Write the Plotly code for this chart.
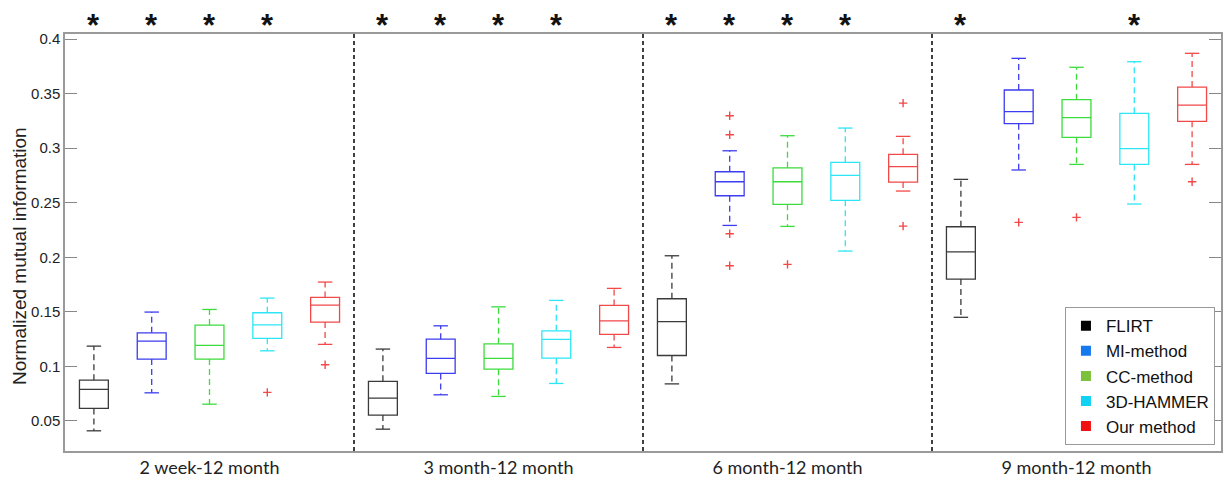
import plotly.graph_objects as go

groups = ["2 week-12 month", "3 month-12 month", "6 month-12 month", "9 month-12 month"]
methods = ["FLIRT", "MI-method", "CC-method", "3D-HAMMER", "Our method"]

# box statistics per method, one value per group
flirt_low = [0.041, 0.0425, 0.084, 0.145]
flirt_q1 = [0.0615, 0.0554, 0.110, 0.180]
flirt_med = [0.079, 0.0709, 0.141, 0.205]
flirt_q3 = [0.0874, 0.0863, 0.162, 0.228]
flirt_up = [0.1186, 0.1159, 0.2014, 0.2714]

mi_low = [0.0758, 0.074, 0.2292, 0.280]
mi_q1 = [0.1067, 0.0936, 0.2564, 0.3224]
mi_med = [0.1232, 0.1073, 0.2692, 0.3334]
mi_q3 = [0.1308, 0.125, 0.2784, 0.3533]
mi_up = [0.1498, 0.1372, 0.2976, 0.3823]

cc_low = [0.0654, 0.0725, 0.2283, 0.2851]
cc_q1 = [0.1067, 0.0975, 0.2485, 0.3099]
cc_med = [0.1192, 0.1073, 0.2692, 0.3279]
cc_q3 = [0.1379, 0.1207, 0.282, 0.3444]
cc_up = [0.1522, 0.1546, 0.3114, 0.3741]

hammer_low = [0.1143, 0.0844, 0.2057, 0.2488]
hammer_q1 = [0.1257, 0.1076, 0.2522, 0.2851]
hammer_med = [0.1381, 0.1247, 0.2751, 0.2995]
hammer_q3 = [0.1492, 0.1326, 0.287, 0.3319]
hammer_up = [0.1626, 0.1605, 0.3184, 0.3792]

ours_low = [0.1202, 0.1174, 0.2607, 0.2851]
ours_q1 = [0.1406, 0.1293, 0.2689, 0.3246]
ours_med = [0.1562, 0.1418, 0.283, 0.3395]
ours_q3 = [0.1632, 0.1559, 0.2943, 0.356]
ours_up = [0.1773, 0.1715, 0.3108, 0.3869]

# outliers per method: list per group
flirt_out = [[], [], [], []]
mi_out = [[], [], [0.3297, 0.3123, 0.2215, 0.1922], [0.232]]
cc_out = [[], [], [0.1935], [0.2366]]
hammer_out = [[0.0762], [], [], []]
ours_out = [[0.1015], [], [0.3413, 0.2286], [0.2692]]

# significance stars (1 = star above the method's box)
stars = [
    [1, 1, 1, 1, 0],
    [1, 1, 1, 1, 0],
    [1, 1, 1, 1, 0],
    [1, 0, 0, 1, 0],
]

stats = {
    "FLIRT": (flirt_low, flirt_q1, flirt_med, flirt_q3, flirt_up, flirt_out),
    "MI-method": (mi_low, mi_q1, mi_med, mi_q3, mi_up, mi_out),
    "CC-method": (cc_low, cc_q1, cc_med, cc_q3, cc_up, cc_out),
    "3D-HAMMER": (hammer_low, hammer_q1, hammer_med, hammer_q3, hammer_up, hammer_out),
    "Our method": (ours_low, ours_q1, ours_med, ours_q3, ours_up, ours_out),
}

box_colors = ["#3a3a3a", "#3c3cf0", "#3cdc3c", "#2ce6f6", "#f24848"]
legend_colors = ["#000000", "#1478ee", "#7cc13c", "#10d2f2", "#f01010"]
outlier_color = "#f24848"

spacing = 0.2
box_w = 0.1
cap_w = 0.05

fig = go.Figure()

for j, m in enumerate(methods):
    low, q1, med, q3, up, outs = stats[m]
    xs = [g + (j - 2) * spacing for g in range(len(groups))]
    col = box_colors[j]
    fig.add_trace(go.Box(
        x=xs, q1=q1, median=med, q3=q3, lowerfence=q1, upperfence=q3,
        width=box_w, whiskerwidth=0, boxpoints=False,
        line=dict(color=col, width=1.3), fillcolor="rgba(0,0,0,0)",
        showlegend=False, hoverinfo="skip",
    ))
    wx, wy, cx, cy = [], [], [], []
    for x, lo, a, b, hi in zip(xs, low, q1, q3, up):
        wx += [x, x, None, x, x, None]
        wy += [b, hi, None, a, lo, None]
        cx += [x - cap_w / 2, x + cap_w / 2, None, x - cap_w / 2, x + cap_w / 2, None]
        cy += [hi, hi, None, lo, lo, None]
    fig.add_trace(go.Scatter(x=wx, y=wy, mode="lines",
                             line=dict(color=col, width=1.3, dash="6px,4px"),
                             showlegend=False, hoverinfo="skip"))
    fig.add_trace(go.Scatter(x=cx, y=cy, mode="lines",
                             line=dict(color=col, width=1.3),
                             showlegend=False, hoverinfo="skip"))
    ox, oy = [], []
    for x, vals in zip(xs, outs):
        ox += [x] * len(vals)
        oy += vals
    if ox:
        fig.add_trace(go.Scatter(x=ox, y=oy, mode="markers",
                                 marker=dict(symbol="cross-thin", size=6, color=outlier_color,
                                             line=dict(color=outlier_color, width=1.4)),
                                 showlegend=False, hoverinfo="skip"))

# significance stars above the plot area
for g, row in enumerate(stars):
    for j, f in enumerate(row):
        if f:
            fig.add_annotation(text="*", x=g + (j - 2) * spacing, xref="x",
                               y=1.0196, yref="paper", xanchor="center", yanchor="middle",
                               showarrow=False,
                               font=dict(family="Liberation Sans", size=31, weight="bold",
                                         color="#111111"))

# legend entries
for j, m in enumerate(methods):
    fig.add_trace(go.Scatter(x=[None], y=[None], mode="markers", name=m,
                             legendgroup=m,
                             marker=dict(symbol="square", size=10, color=legend_colors[j])))

# group dividers
for g in range(len(groups) - 1):
    fig.add_vline(x=g + 0.5, line=dict(color="#111111", width=1.6, dash="4px,3px"))

fig.add_annotation(text="Normalized mutual information", textangle=-90,
                   xref="paper", yref="paper", x=-0.0388, y=0.468,
                   xanchor="center", yanchor="middle",
                   showarrow=False, font=dict(family="Liberation Sans", size=19, color="#222222"))

fig.update_layout(
    width=1224, height=483,
    margin=dict(l=65, r=1, t=34, b=32),
    paper_bgcolor="white", plot_bgcolor="white",
    legend=dict(x=0.865, y=0.345, xanchor="left", yanchor="top",
                bordercolor="#999999", borderwidth=1, bgcolor="white",
                font=dict(family="Liberation Sans", size=17, color="#111111"),
                tracegroupgap=0, itemwidth=30),
    xaxis=dict(range=[-0.5, len(groups) - 0.5], tickvals=list(range(len(groups))),
               ticktext=groups, ticks="", showgrid=False, zeroline=False,
               showline=True, mirror=True, linecolor="#9a9a9a", linewidth=1.5,
               tickfont=dict(family="Lato", size=18, color="#222222")),
    yaxis=dict(range=[0.0225, 0.4046], tickvals=[0.05, 0.1, 0.15, 0.2, 0.25, 0.3, 0.35, 0.4],
               ticktext=["0.05", "0.1", "0.15", "0.2", "0.25", "0.3", "0.35", "0.4"],
               ticks="inside", ticklen=12, tickcolor="#888888", tickwidth=1,
               showgrid=False, zeroline=False, showline=True, mirror="allticks",
               linecolor="#9a9a9a", linewidth=1.5,
               tickfont=dict(family="Liberation Sans", size=15, color="#222222")),
)

fig.write_html("out.html", config={"displayModeBar": False},
               post_script="document.body.style.margin='0px';")
